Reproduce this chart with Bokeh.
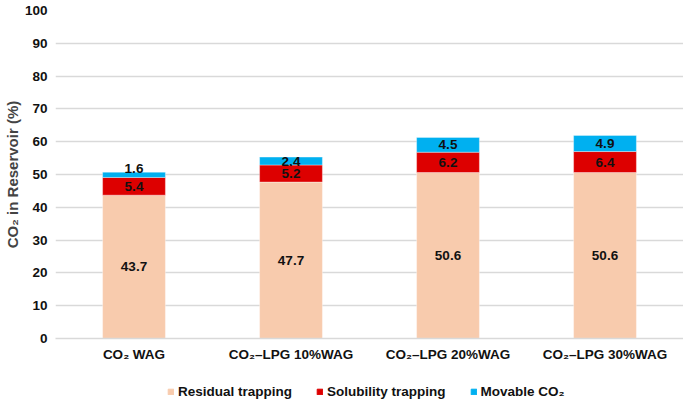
from bokeh.plotting import figure
from bokeh.models import ColumnDataSource, Legend, LegendItem, FixedTicker
from bokeh.layouts import column
from bokeh.embed import file_html
from bokeh.resources import INLINE
from bokeh.core.properties import value

categories = ["CO₂ WAG", "CO₂–LPG 10%WAG", "CO₂–LPG 20%WAG", "CO₂–LPG 30%WAG"]
residual = [43.7, 47.7, 50.6, 50.6]
solubility = [5.4, 5.2, 6.2, 6.4]
movable = [1.6, 2.4, 4.5, 4.9]
series_names = ["Residual trapping", "Solubility trapping", "Movable CO₂"]
colors = ["#F8CBAD", "#DD0000", "#00B0F0"]
y_ticks = [0, 10, 20, 30, 40, 50, 60, 70, 80, 90, 100]

src = ColumnDataSource(dict(cat=categories, residual=residual,
                            solubility=solubility, movable=movable))

p = figure(x_range=categories, y_range=(0, 100), frame_width=628, frame_height=328,
           output_backend="svg", toolbar_location=None,
           min_border_left=0, min_border_right=0, min_border_top=10,
           min_border_bottom=40)

keys = ["residual", "solubility", "movable"]
renderers = p.vbar_stack(keys, x="cat", width=0.40, source=src, color=colors,
                         line_color="white", line_alpha=0.35, line_width=1)

# data labels
lx, ly, lt, lb = [], [], [], []
for i, c in enumerate(categories):
    base = 0.0
    for vals in (residual, solubility, movable):
        v = vals[i]
        lx.append(c)
        if v < 2.0:
            ly.append(base + v - 0.3)
            lb.append("bottom")
        else:
            ly.append(base + v / 2)
            lb.append("middle")
        lt.append(f"{v:.1f}")
        base += v
lsrc = ColumnDataSource(dict(x=lx, y=ly, t=lt, b=lb))
p.text(x="x", y="y", text="t", source=lsrc, text_align="center",
       text_baseline="b", text_font=value("Liberation Sans"),
       text_font_style="bold", text_font_size="13.5px", text_color="#111111")

p.yaxis.ticker = FixedTicker(ticks=y_ticks)
p.yaxis.axis_label = "CO₂ in Reservoir (%)"
p.yaxis.axis_label_text_font = "Liberation Sans"
p.yaxis.axis_label_text_font_style = "bold"
p.yaxis.axis_label_text_font_size = "15px"
p.yaxis.axis_label_standoff = 1
for ax in (p.xaxis, p.yaxis):
    ax.major_label_text_font = "Liberation Sans"
    ax.major_label_text_font_style = "bold"
    ax.major_label_text_font_size = "13.5px"
    ax.major_label_text_color = "#111111"
    ax.major_tick_line_color = None
    ax.minor_tick_line_color = None
    ax.major_tick_out = 0
    ax.major_tick_in = 0
    ax.minor_tick_out = 0
p.yaxis.axis_line_color = None
p.xaxis.axis_line_color = "#D9D9D9"
p.xaxis.axis_line_width = 1.5
p.xaxis.major_label_standoff = 8
p.yaxis.major_label_standoff = 8

p.xgrid.grid_line_color = None
p.ygrid.grid_line_color = "#D9D9D9"
p.ygrid.grid_line_width = 1.5
p.outline_line_color = None
p.x_range.range_padding = 0.0

# legend strip below the chart
pl = figure(width=682, height=26, x_range=(0, 1), y_range=(0, 1),
            x_axis_type=None, y_axis_type=None, output_backend="svg",
            toolbar_location=None, min_border=0, outline_line_color=None)
pl.grid.visible = False
leg_renderers = [pl.vbar(x=[-5], top=[-5], bottom=[-6], width=1, color=c) for c in colors]
legend = Legend(items=[LegendItem(label=n, renderers=[r]) for n, r in zip(series_names, leg_renderers)],
                orientation="horizontal", location=(112, 5),
                label_text_font="Liberation Sans", label_text_font_style="bold",
                label_text_font_size="13.5px", label_text_color="#111111",
                glyph_width=7, glyph_height=7, spacing=24, label_standoff=4,
                label_height=15, border_line_color=None, background_fill_alpha=0,
                margin=0, padding=0)
pl.add_layout(legend, "center")

layout = column(p, pl, spacing=0)
open("out.html", "w").write(file_html(layout, INLINE))
